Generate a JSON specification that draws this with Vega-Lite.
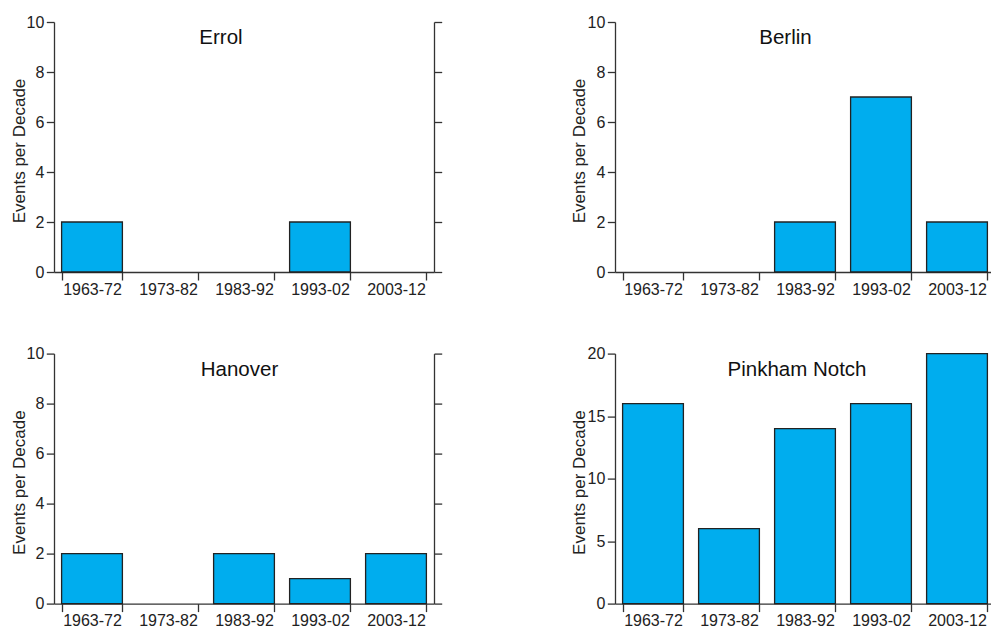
{
  "$schema": "https://vega.github.io/schema/vega-lite/v6.json",
  "background": "white",
  "padding": {"left": 10, "top": 14, "right": -4, "bottom": 0},
  "data": {"values": [
    {"station": "Errol", "decade": "1963-72", "events": 2},
    {"station": "Errol", "decade": "1973-82", "events": 0},
    {"station": "Errol", "decade": "1983-92", "events": 0},
    {"station": "Errol", "decade": "1993-02", "events": 2},
    {"station": "Errol", "decade": "2003-12", "events": 0},
    {"station": "Berlin", "decade": "1963-72", "events": 0},
    {"station": "Berlin", "decade": "1973-82", "events": 0},
    {"station": "Berlin", "decade": "1983-92", "events": 2},
    {"station": "Berlin", "decade": "1993-02", "events": 7},
    {"station": "Berlin", "decade": "2003-12", "events": 2},
    {"station": "Hanover", "decade": "1963-72", "events": 2},
    {"station": "Hanover", "decade": "1973-82", "events": 0},
    {"station": "Hanover", "decade": "1983-92", "events": 2},
    {"station": "Hanover", "decade": "1993-02", "events": 1},
    {"station": "Hanover", "decade": "2003-12", "events": 2},
    {"station": "Pinkham Notch", "decade": "1963-72", "events": 16},
    {"station": "Pinkham Notch", "decade": "1973-82", "events": 6},
    {"station": "Pinkham Notch", "decade": "1983-92", "events": 14},
    {"station": "Pinkham Notch", "decade": "1993-02", "events": 16},
    {"station": "Pinkham Notch", "decade": "2003-12", "events": 20}
  ]},
  "columns": 2,
  "bounds": "flush",
  "spacing": {"column": 181, "row": 81.6},
  "concat": [
    {
      "title": {"text": "Errol", "dx": -23},
      "width": 380, "height": 250,
      "transform": [{"filter": "datum.station === 'Errol'"}],
      "layer": [
        {
          "mark": {"type": "bar", "fill": "#00ADEE", "stroke": "#222222", "strokeWidth": 1.3},
          "encoding": {
            "x": {"field": "decade", "type": "nominal", "sort": null, "scale": {"paddingInner": 0.2, "paddingOuter": 0.1}, "axis": {"title": null, "labelAngle": 0, "tickBand": "extent"}},
            "y": {"field": "events", "type": "quantitative", "scale": {"domain": [0, 10], "nice": false}, "axis": {"title": "Events per Decade", "values": [0, 2, 4, 6, 8, 10], "titleX": -35, "titleY": 128.5}},
            "strokeOpacity": {"condition": {"test": "datum.events === 0", "value": 0}, "value": 1}
          }
        },
        {
          "mark": {"type": "bar", "opacity": 0},
          "encoding": {
            "x": {"field": "decade", "type": "nominal", "sort": null, "scale": {"paddingInner": 0.2, "paddingOuter": 0.1}, "axis": {"title": null, "labelAngle": 0, "tickBand": "extent"}},
            "y": {"field": "events", "type": "quantitative", "axis": {"orient": "right", "title": null, "labels": false, "values": [0, 2, 4, 6, 8, 10]}}
          }
        }
      ],
      "resolve": {"axis": {"y": "independent"}}
    },
    {
      "title": {"text": "Berlin", "dx": -19.5},
      "width": 380, "height": 250,
      "transform": [{"filter": "datum.station === 'Berlin'"}],
      "mark": {"type": "bar", "fill": "#00ADEE", "stroke": "#222222", "strokeWidth": 1.3},
      "encoding": {
        "x": {"field": "decade", "type": "nominal", "sort": null, "scale": {"paddingInner": 0.2, "paddingOuter": 0.1}, "axis": {"title": null, "labelAngle": 0, "tickBand": "extent"}},
        "y": {"field": "events", "type": "quantitative", "scale": {"domain": [0, 10], "nice": false}, "axis": {"title": "Events per Decade", "values": [0, 2, 4, 6, 8, 10], "titleX": -36, "titleY": 128.5}},
        "strokeOpacity": {"condition": {"test": "datum.events === 0", "value": 0}, "value": 1}
      }
    },
    {
      "title": {"text": "Hanover", "dx": -4.5},
      "width": 380, "height": 250,
      "transform": [{"filter": "datum.station === 'Hanover'"}],
      "layer": [
        {
          "mark": {"type": "bar", "fill": "#00ADEE", "stroke": "#222222", "strokeWidth": 1.3},
          "encoding": {
            "x": {"field": "decade", "type": "nominal", "sort": null, "scale": {"paddingInner": 0.2, "paddingOuter": 0.1}, "axis": {"title": null, "labelAngle": 0, "tickBand": "extent"}},
            "y": {"field": "events", "type": "quantitative", "scale": {"domain": [0, 10], "nice": false}, "axis": {"title": "Events per Decade", "values": [0, 2, 4, 6, 8, 10], "titleX": -35, "titleY": 128.5}},
            "strokeOpacity": {"condition": {"test": "datum.events === 0", "value": 0}, "value": 1}
          }
        },
        {
          "mark": {"type": "bar", "opacity": 0},
          "encoding": {
            "x": {"field": "decade", "type": "nominal", "sort": null, "scale": {"paddingInner": 0.2, "paddingOuter": 0.1}, "axis": {"title": null, "labelAngle": 0, "tickBand": "extent"}},
            "y": {"field": "events", "type": "quantitative", "axis": {"orient": "right", "title": null, "labels": false, "values": [0, 2, 4, 6, 8, 10]}}
          }
        }
      ],
      "resolve": {"axis": {"y": "independent"}}
    },
    {
      "title": {"text": "Pinkham Notch", "dx": -8},
      "width": 380, "height": 250,
      "transform": [{"filter": "datum.station === 'Pinkham Notch'"}],
      "mark": {"type": "bar", "fill": "#00ADEE", "stroke": "#222222", "strokeWidth": 1.3},
      "encoding": {
        "x": {"field": "decade", "type": "nominal", "sort": null, "scale": {"paddingInner": 0.2, "paddingOuter": 0.1}, "axis": {"title": null, "labelAngle": 0, "tickBand": "extent"}},
        "y": {"field": "events", "type": "quantitative", "scale": {"domain": [0, 20], "nice": false}, "axis": {"title": "Events per Decade", "values": [0, 5, 10, 15, 20], "titleX": -36, "titleY": 128.5}}
      }
    }
  ],
  "config": {
    "view": {"stroke": null},
    "font": "Liberation Sans",
    "title": {"font": "Liberation Sans", "fontSize": 20.5, "fontWeight": "normal", "color": "#111111", "offset": -34.6, "baseline": "alphabetic", "anchor": "middle"},
    "axis": {
      "grid": false,
      "domainColor": "#333333", "domainWidth": 1.3,
      "tickColor": "#333333", "tickWidth": 1.3, "tickSize": 7.7,
      "labelFont": "Liberation Sans", "labelFontSize": 16, "labelColor": "#222222",
      "titleFont": "Liberation Sans", "titleFontSize": 17, "titleFontWeight": "normal", "titleColor": "#222222",
      "labelPadding": 2.5
    },
    "axisX": {"labelPadding": 1, "tickSize": 8, "labelBaseline": "top"},
    "axisY": {"titleBaseline": "middle", "titleAngle": 270}
  }
}
